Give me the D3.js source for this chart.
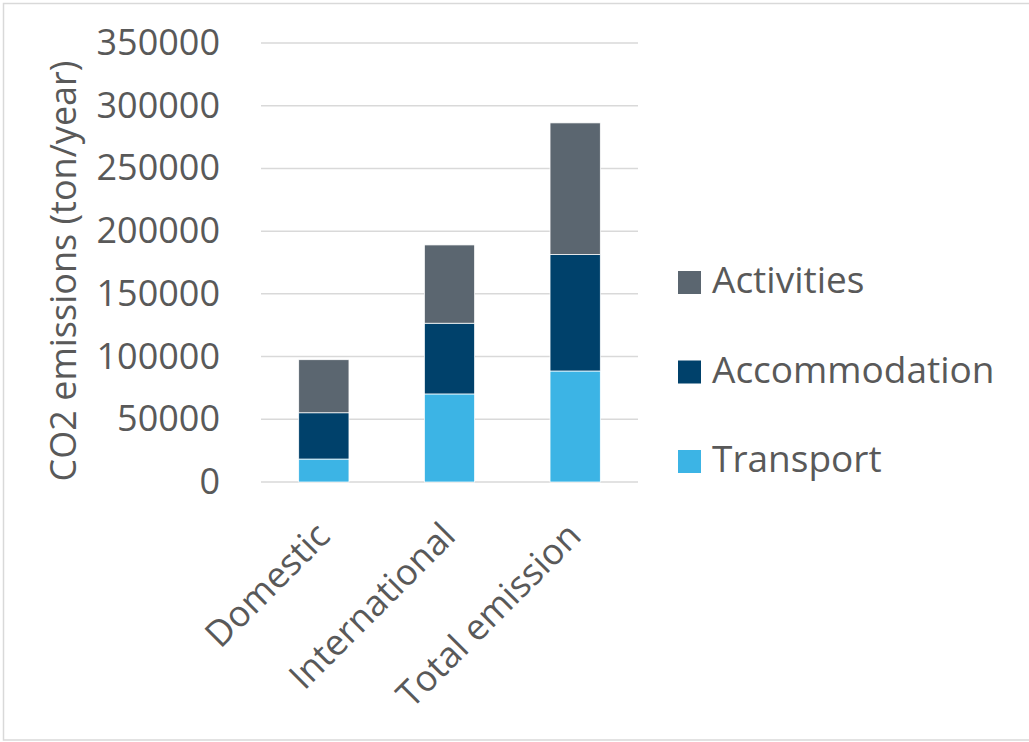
<!DOCTYPE html>
<meta charset="utf-8">
<style>
body { margin: 0; background: #fff; }
text { font-family: 'Open Sans', sans-serif; fill: #595959; }
.grid line { stroke: #d9d9d9; stroke-width: 1.5px; }
</style>
<svg id="chart" width="1029" height="742"></svg>
<script src="https://cdn.jsdelivr.net/npm/d3@7"></script>
<script>
// values (ton/year)
const categories = ["Domestic", "International", "Total emission"];
const transport = [18300, 70200, 88500];
const accommodation = [36900, 56400, 92800];
const activities = [42300, 62400, 105000];
const seriesNames = ["Transport", "Accommodation", "Activities"];
const seriesColors = ["#3cb4e5", "#00416b", "#5b6670"];
const yTicks = [0, 50000, 100000, 150000, 200000, 250000, 300000, 350000];

const svg = d3.select("#chart");

// outer frame
svg.append("rect")
    .attr("x", 3.5).attr("y", 3.5)
    .attr("width", 1040).attr("height", 736.5)
    .attr("fill", "none")
    .attr("stroke", "#d9d9d9")
    .attr("stroke-width", 1.5);

const x = d3.scaleBand()
    .domain(categories)
    .range([261, 638])
    .paddingInner(0.6)
    .paddingOuter(0.3);

const y = d3.scaleLinear()
    .domain([0, 350000])
    .range([482, 43]);

const table = categories.map((c, i) => ({
  category: c,
  Transport: transport[i],
  Accommodation: accommodation[i],
  Activities: activities[i]
}));

const stack = d3.stack().keys(seriesNames);
const layers = stack(table);

// gridlines
svg.append("g")
    .attr("class", "grid")
  .selectAll("line")
  .data(yTicks)
  .enter().append("line")
    .attr("x1", 261).attr("x2", 638)
    .attr("y1", d => y(d)).attr("y2", d => y(d));

// y axis labels
const yAxis = svg.append("g")
    .attr("transform", "translate(261,0)")
    .call(d3.axisLeft(y).tickValues(yTicks).tickSize(0).tickPadding(41).tickFormat(d3.format("d")));
yAxis.select(".domain").remove();
yAxis.selectAll("text")
    .style("font-size", "36px")
    .style("font-family", "'Open Sans', sans-serif")
    .attr("fill", "#595959");

// bars
svg.append("g")
  .selectAll("g")
  .data(layers)
  .enter().append("g")
    .attr("fill", (d, i) => seriesColors[i])
  .selectAll("rect")
  .data(d => d)
  .enter().append("rect")
    .attr("x", d => x(d.data.category))
    .attr("width", x.bandwidth())
    .attr("y", d => y(d[1]))
    .attr("height", d => y(d[0]) - y(d[1]))
    .attr("stroke", "#fff")
    .attr("stroke-width", 0.75);

// x axis labels, rotated
const xAxis = svg.append("g")
    .attr("transform", "translate(0,482)")
    .call(d3.axisBottom(x).tickSize(0).tickPadding(0));
xAxis.select(".domain").remove();
xAxis.selectAll("text")
    .style("font-size", "36px")
    .style("font-family", "'Open Sans', sans-serif")
    .attr("fill", "#595959")
    .attr("text-anchor", "end")
    .attr("dy", null)
    .attr("y", null)
    .attr("transform", "translate(8,56) rotate(-45)");

// y axis title
svg.append("text")
    .attr("transform", "translate(76,271) rotate(-90)")
    .attr("text-anchor", "middle")
    .style("font-size", "36px")
    .text("CO2 emissions (ton/year)");

// legend (reverse order, top = Activities)
const legendOrder = seriesNames.slice().reverse();
const legend = svg.append("g")
  .selectAll("g")
  .data(legendOrder)
  .enter().append("g")
    .attr("transform", (d, i) => "translate(678," + (271 + i * 89.5) + ")");

legend.append("rect")
    .attr("width", 23).attr("height", 23)
    .attr("fill", d => seriesColors[seriesNames.indexOf(d)]);

legend.append("text")
    .attr("x", 34).attr("y", 22)
    .style("font-size", "37px")
    .text(d => d);
</script>
